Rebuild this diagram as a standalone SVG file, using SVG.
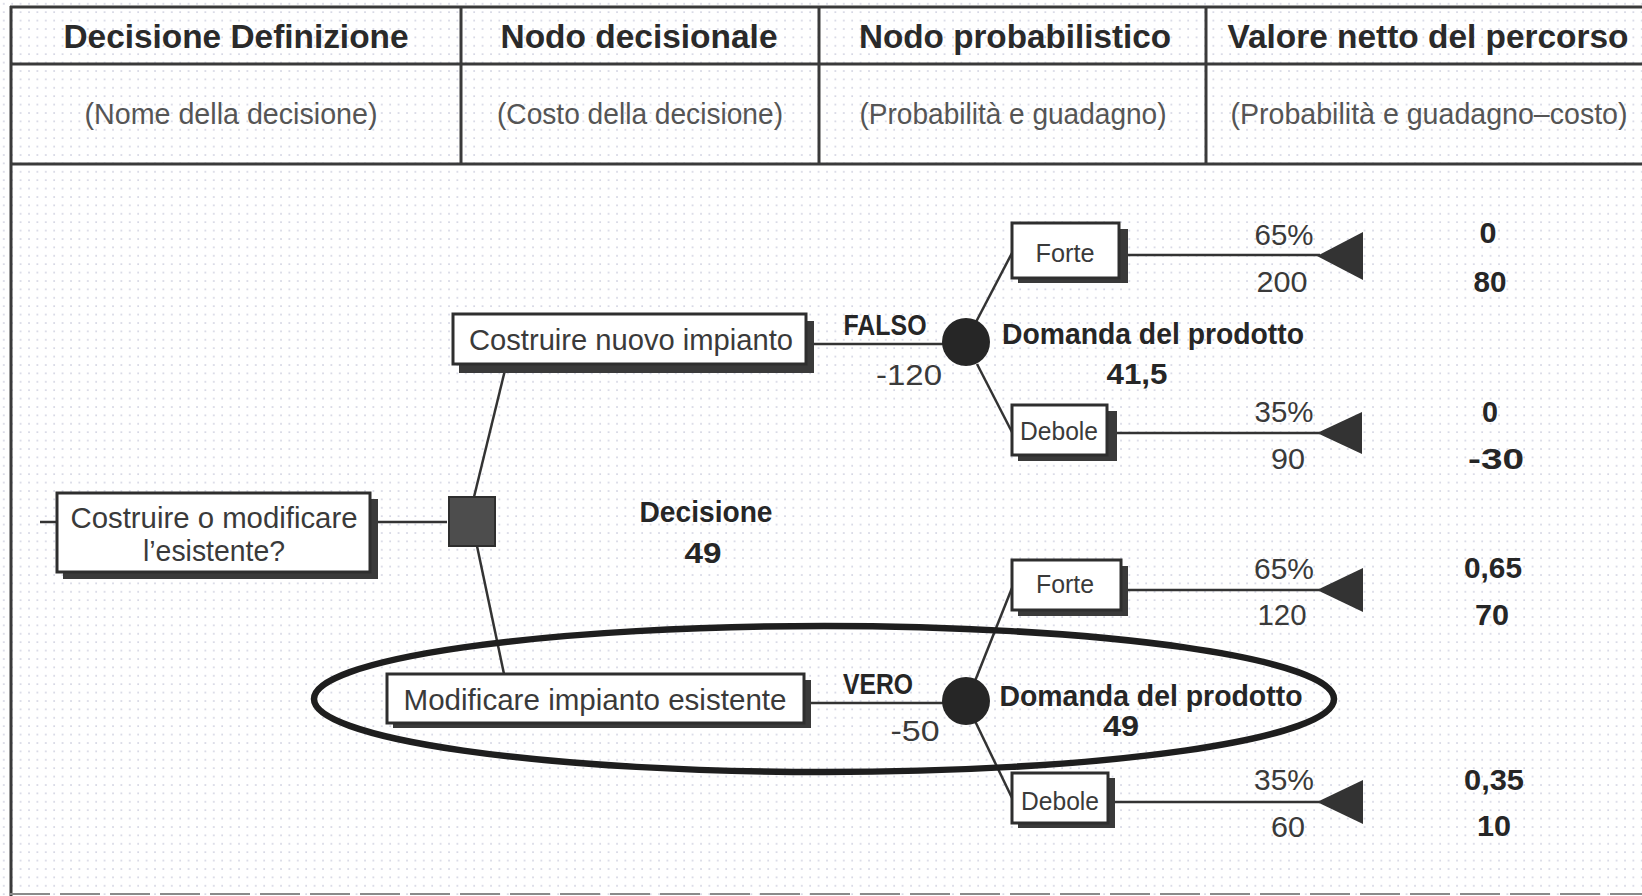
<svg xmlns="http://www.w3.org/2000/svg" width="1642" height="896" viewBox="0 0 1642 896">
  <defs>
    <!-- halftone screen of the printed page -->
    <pattern id="screen" width="8.4" height="8.4" patternUnits="userSpaceOnUse">
      <rect x="3" y="3" width="1.6" height="1.6" fill="#a6a8c4"/>
    </pattern>
    <style>
      .grid { stroke: #3a3a3a; stroke-width: 3; fill: none; }
      .head { font-family: "Liberation Sans", Arial, sans-serif; font-weight: bold; font-size: 33px; fill: #2a2a2a; text-anchor: middle; }
      .sub { font-family: "Liberation Sans", Arial, sans-serif; font-size: 29px; fill: #555; text-anchor: middle; }
      .box { fill: #fff; stroke: #2e2e2e; stroke-width: 3; }
      .shadow { fill: #3a3a3a; }
      .lbl { font-family: "Liberation Sans", Arial, sans-serif; font-size: 30px; fill: #3a3a3a; text-anchor: middle; }
      .small { font-family: "Liberation Sans", Arial, sans-serif; font-size: 26px; fill: #3a3a3a; text-anchor: middle; }
      .num { font-family: "Liberation Sans", Arial, sans-serif; font-size: 29px; fill: #3a3a3a; text-anchor: middle; }
      .bold { font-family: "Liberation Sans", Arial, sans-serif; font-weight: bold; font-size: 29px; fill: #262626; text-anchor: middle; }
      .edge { stroke: #333; stroke-width: 2.5; fill: none; }
      .end { fill: #333; }
      .chance { fill: #262626; }
    </style>
  </defs>

  <rect width="1642" height="896" fill="#fff"/>
  <rect width="1642" height="896" fill="url(#screen)" opacity="0.55"/>

  <!-- table frame -->
  <g id="table">
    <line class="grid" x1="10" y1="7" x2="1642" y2="7"/>
    <line class="grid" x1="10" y1="64" x2="1642" y2="64"/>
    <line class="grid" x1="10" y1="164" x2="1642" y2="164"/>
    <line class="grid" x1="11" y1="6" x2="11" y2="896"/>
    <line class="grid" x1="461" y1="6" x2="461" y2="164"/>
    <line class="grid" x1="819" y1="6" x2="819" y2="164"/>
    <line class="grid" x1="1206" y1="6" x2="1206" y2="164"/>
    <line x1="10" y1="894" x2="1642" y2="894" stroke="#8a8a8a" stroke-width="2" stroke-dasharray="40 10"/>

    <text class="head" x="236" y="48" textLength="345" lengthAdjust="spacingAndGlyphs">Decisione Definizione</text>
    <text class="head" x="639" y="48" textLength="277" lengthAdjust="spacingAndGlyphs">Nodo decisionale</text>
    <text class="head" x="1015" y="48" textLength="312" lengthAdjust="spacingAndGlyphs">Nodo probabilistico</text>
    <text class="head" x="1428" y="48" textLength="401" lengthAdjust="spacingAndGlyphs">Valore netto del percorso</text>

    <text class="sub" x="231" y="124" textLength="293" lengthAdjust="spacingAndGlyphs">(Nome della decisione)</text>
    <text class="sub" x="640" y="124" textLength="286" lengthAdjust="spacingAndGlyphs">(Costo della decisione)</text>
    <text class="sub" x="1013" y="124" textLength="307" lengthAdjust="spacingAndGlyphs">(Probabilità e guadagno)</text>
    <text class="sub" x="1429" y="124" textLength="397" lengthAdjust="spacingAndGlyphs">(Probabilità e guadagno–costo)</text>
  </g>

  <!-- connectors -->
  <g id="connectors">
    <line class="edge" x1="40" y1="522" x2="57" y2="522"/>
    <line class="edge" x1="378" y1="522" x2="447" y2="522"/>
    <line class="edge" x1="474" y1="497" x2="505" y2="370"/>
    <line class="edge" x1="477" y1="546" x2="504" y2="674"/>
    <line class="edge" x1="814" y1="344" x2="944" y2="344"/>
    <line class="edge" x1="811" y1="703" x2="944" y2="703"/>
    <line class="edge" x1="976" y1="322" x2="1012" y2="253"/>
    <line class="edge" x1="977" y1="364" x2="1014" y2="436"/>
    <line class="edge" x1="975" y1="681" x2="1012" y2="588"/>
    <line class="edge" x1="975" y1="721" x2="1013" y2="800"/>
    <line class="edge" x1="1128" y1="255" x2="1320" y2="255"/>
    <line class="edge" x1="1117" y1="433" x2="1320" y2="433"/>
    <line class="edge" x1="1128" y1="590" x2="1320" y2="590"/>
    <line class="edge" x1="1115" y1="802" x2="1320" y2="802"/>
    <text class="bold" x="885" y="335" textLength="83" lengthAdjust="spacingAndGlyphs">FALSO</text>
    <text class="num" x="909" y="385" textLength="66" lengthAdjust="spacingAndGlyphs">-120</text>
    <text class="bold" x="878" y="694" textLength="70" lengthAdjust="spacingAndGlyphs">VERO</text>
    <text class="num" x="915" y="741" textLength="49" lengthAdjust="spacingAndGlyphs">-50</text>
  </g>

  <!-- root question -->
  <g id="question">
    <rect class="shadow" x="63" y="499" width="315" height="80"/>
    <rect class="box" x="57" y="493" width="313" height="79"/>
    <text class="lbl" x="214" y="528" textLength="287" lengthAdjust="spacingAndGlyphs">Costruire o modificare</text>
    <text class="lbl" x="214" y="561" textLength="142" lengthAdjust="spacingAndGlyphs">l’esistente?</text>
  </g>

  <!-- decision node -->
  <g id="decision">
    <rect x="449" y="497" width="46" height="49" fill="#4d4d4d" stroke="#2e2e2e" stroke-width="2"/>
    <text class="bold" x="706" y="522" textLength="133" lengthAdjust="spacingAndGlyphs">Decisione</text>
    <text class="bold" x="703" y="563" textLength="37" lengthAdjust="spacingAndGlyphs">49</text>
  </g>

  <!-- option: new plant -->
  <g id="option-new">
    <rect class="shadow" x="459" y="321" width="355" height="52"/>
    <rect class="box" x="453" y="314" width="353" height="50"/>
    <text class="lbl" x="631" y="350" textLength="324" lengthAdjust="spacingAndGlyphs">Costruire nuovo impianto</text>
  </g>

  <!-- option: modify existing plant -->
  <g id="option-modify">
    <rect class="shadow" x="393" y="680" width="418" height="48"/>
    <rect class="box" x="387" y="674" width="417" height="49"/>
    <text class="lbl" x="595" y="710" textLength="383" lengthAdjust="spacingAndGlyphs">Modificare impianto esistente</text>
  </g>

  <!-- chance node: new plant -->
  <g id="chance-new">
    <circle class="chance" cx="966" cy="342" r="24"/>
    <text class="bold" x="1153" y="344" textLength="302" lengthAdjust="spacingAndGlyphs">Domanda del prodotto</text>
    <text class="bold" x="1137" y="384" textLength="61" lengthAdjust="spacingAndGlyphs">41,5</text>
  </g>

  <!-- chance node: modified plant -->
  <g id="chance-modify">
    <circle class="chance" cx="966" cy="701" r="24"/>
    <text class="bold" x="1151" y="706" textLength="303" lengthAdjust="spacingAndGlyphs">Domanda del prodotto</text>
    <text class="bold" x="1121" y="736" font-size="26" textLength="36" lengthAdjust="spacingAndGlyphs">49</text>
  </g>

  <!-- outcome: new plant, strong demand -->
  <g id="new-forte">
    <rect class="shadow" x="1018" y="229" width="110" height="54"/>
    <rect class="box" x="1012" y="223" width="107" height="55"/>
    <text class="small" x="1065" y="262" textLength="59" lengthAdjust="spacingAndGlyphs">Forte</text>
    <polygon class="end" points="1317,256 1363,232 1363,280"/>
    <text class="num" x="1284" y="245" textLength="59" lengthAdjust="spacingAndGlyphs">65%</text>
    <text class="num" x="1282" y="292" textLength="51" lengthAdjust="spacingAndGlyphs">200</text>
    <text class="bold" x="1488" y="243" textLength="17" lengthAdjust="spacingAndGlyphs">0</text>
    <text class="bold" x="1490" y="292" textLength="33" lengthAdjust="spacingAndGlyphs">80</text>
  </g>

  <!-- outcome: new plant, weak demand -->
  <g id="new-debole">
    <rect class="shadow" x="1018" y="411" width="99" height="50"/>
    <rect class="box" x="1012" y="405" width="95" height="50"/>
    <text class="small" x="1059" y="440" textLength="78" lengthAdjust="spacingAndGlyphs">Debole</text>
    <polygon class="end" points="1317,433 1362,412 1362,454"/>
    <text class="num" x="1284" y="422" textLength="59" lengthAdjust="spacingAndGlyphs">35%</text>
    <text class="num" x="1288" y="469" textLength="34" lengthAdjust="spacingAndGlyphs">90</text>
    <text class="bold" x="1490" y="422" textLength="16" lengthAdjust="spacingAndGlyphs">0</text>
    <text class="bold" x="1496" y="469" textLength="56" lengthAdjust="spacingAndGlyphs">-30</text>
  </g>

  <!-- outcome: modified plant, strong demand -->
  <g id="modify-forte">
    <rect class="shadow" x="1018" y="566" width="110" height="50"/>
    <rect class="box" x="1012" y="560" width="109" height="50"/>
    <text class="small" x="1065" y="593" textLength="58" lengthAdjust="spacingAndGlyphs">Forte</text>
    <polygon class="end" points="1317,590 1363,568 1363,612"/>
    <text class="num" x="1284" y="579" textLength="60" lengthAdjust="spacingAndGlyphs">65%</text>
    <text class="num" x="1282" y="625" textLength="49" lengthAdjust="spacingAndGlyphs">120</text>
    <text class="bold" x="1493" y="578" textLength="58" lengthAdjust="spacingAndGlyphs">0,65</text>
    <text class="bold" x="1492" y="625" textLength="34" lengthAdjust="spacingAndGlyphs">70</text>
  </g>

  <!-- outcome: modified plant, weak demand -->
  <g id="modify-debole">
    <rect class="shadow" x="1018" y="778" width="97" height="50"/>
    <rect class="box" x="1012" y="773" width="96" height="50"/>
    <text class="small" x="1060" y="810" textLength="78" lengthAdjust="spacingAndGlyphs">Debole</text>
    <polygon class="end" points="1317,802 1363,780 1363,824"/>
    <text class="num" x="1284" y="790" textLength="60" lengthAdjust="spacingAndGlyphs">35%</text>
    <text class="num" x="1288" y="837" textLength="34" lengthAdjust="spacingAndGlyphs">60</text>
    <text class="bold" x="1494" y="790" textLength="60" lengthAdjust="spacingAndGlyphs">0,35</text>
    <text class="bold" x="1494" y="836" textLength="34" lengthAdjust="spacingAndGlyphs">10</text>
  </g>

  <!-- highlight around the chosen branch -->
  <g id="highlight">
    <ellipse cx="824" cy="699" rx="510" ry="73" fill="none" stroke="#1e1e1e" stroke-width="6.5"/>
  </g>
</svg>
